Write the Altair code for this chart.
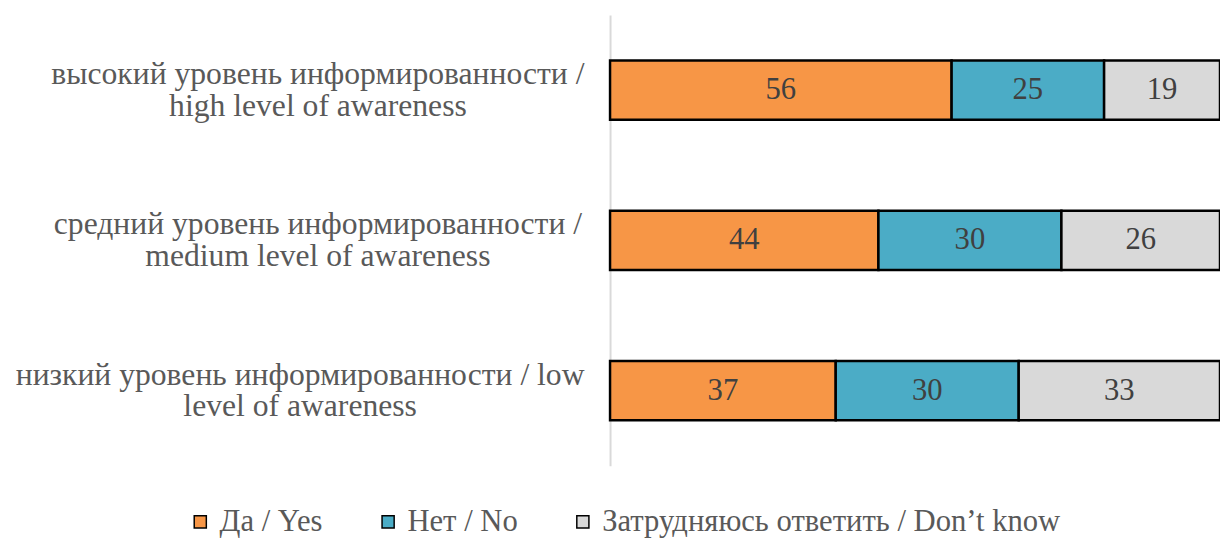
import altair as alt
import pandas as pd

groups = ["high", "medium", "low"]
group_labels = [
    "высокий уровень информированности /|high level of awareness",
    "средний уровень информированности /|medium level of awareness",
    "низкий уровень информированности / low|level of awareness",
]
answers = ["Да / Yes", "Нет / No", "Затрудняюсь ответить / Don’t know"]
yes_vals = [56, 44, 37]
no_vals = [25, 30, 30]
dk_vals = [19, 26, 33]
colors = ["#F79646", "#4BACC6", "#D9D9D9"]

rows = []
for gi, g in enumerate(group_labels):
    for ai, (a, vals) in enumerate(zip(answers, [yes_vals, no_vals, dk_vals])):
        rows.append({"group": g, "answer": a, "ord": ai, "value": vals[gi]})
df = pd.DataFrame(rows)

FONT = "Times New Roman"
FS = 31
TXT = "#595959"

base = alt.Chart(df).transform_stack(
    stack="value", groupby=["group"], as_=["x0", "x1"],
    sort=[alt.SortField("ord", order="ascending")]
).transform_calculate(mid="(datum.x0 + datum.x1) / 2")

yenc = alt.Y(
    "group:N", sort=group_labels, title=None,
    scale=alt.Scale(paddingInner=0, paddingOuter=0),
    axis=alt.Axis(
        labelExpr="split(datum.value, '|')",
        labelAlign="center", labelBaseline="middle",
        labelFont=FONT, labelFontSize=32, labelColor=TXT,
        labelLineHeight=32, labelOffset=-16, labelLimit=0,
        labelPadding={
            "condition": {"test": "indexof(datum.value, 'низкий') === 0", "value": 314},
            "value": 296,
        },
        ticks=False, domainColor="#D9D9D9", domainWidth=2,
    ),
)

bars = base.mark_bar(size=60, stroke="#000000", strokeWidth=2.5).encode(
    y=yenc,
    x=alt.X("x0:Q", scale=alt.Scale(domain=[0, 100]), axis=None),
    x2="x1:Q",
    color=alt.Color(
        "answer:N", sort=answers,
        scale=alt.Scale(domain=answers, range=colors),
        legend=alt.Legend(
            title=None, orient="none", direction="horizontal",
            legendX=-430, legendY=497,
            symbolType="square", symbolSize=150,
            symbolStrokeColor="#000000", symbolStrokeWidth=1.5,
            labelFont=FONT, labelFontSize=FS, labelColor=TXT,
            labelOffset=4, columnPadding=50, labelLimit=0,
        ),
    ),
)

labels = base.mark_text(font=FONT, fontSize=FS, color="#404040", baseline="middle").encode(
    y=alt.Y("group:N", sort=group_labels),
    x=alt.X("mid:Q"),
    text=alt.Text("value:Q"),
)

chart = (bars + labels).properties(
    width=617, height=456,
    autosize=alt.AutoSizeParams(type="none"),
    padding={"left": 609, "top": 4, "right": 0, "bottom": 70},
).configure_view(stroke=None)

chart.save("out.html", embed_options={"renderer": "svg", "actions": False})
